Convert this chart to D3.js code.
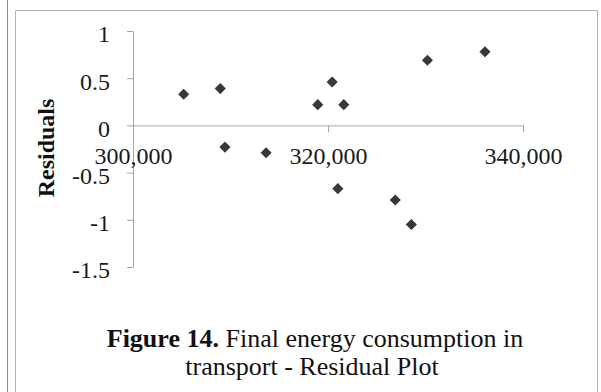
<!DOCTYPE html>
<html>
<head>
<meta charset="utf-8">
<script src="https://cdn.jsdelivr.net/npm/d3@7"></script>
<style>
   body { margin: 0; background: #fff; }
   svg { display: block; }
   text { font-family: "Liberation Serif", "Times New Roman", serif; }
</style>
</head>
<body>
<div id="chart"></div>
<script>

// DATA
var consumption = [305200, 308950, 309430, 313650, 318950, 320430, 321620, 321010, 326900, 328550, 330200, 336100];
var residuals   = [0.33, 0.39, -0.23, -0.29, 0.22, 0.46, 0.22, -0.67, -0.79, -1.05, 0.69, 0.78];

var xTicks = [300000, 320000, 340000];
var xTickLabels = ['300,000', '320,000', '340,000'];
var yTicks = [1, 0.5, 0, -0.5, -1, -1.5];
var yTickLabels = ['1', '0.5', '0', '-0.5', '-1', '-1.5'];

var captionBold = 'Figure 14.';
var captionRest = ' Final energy consumption in';
var captionLine2 = 'transport - Residual Plot';

// SETTINGS
var settings = {
   width: 601,
   height: 392,
   plot: { left: 133, right: 523, top: 31, bottom: 267 },
   axis: '#a6a6a6',
   dot: '#383838'
};

// CANVAS
var canvas = d3.select('#chart').append('svg')
   .attr('width', settings.width)
   .attr('height', settings.height)

// FRAME LINES
canvas.append('line')
   .attr('x1', 7.5).attr('x2', 7.5).attr('y1', 0).attr('y2', settings.height)
   .attr('stroke', '#8c8c8c')
canvas.append('path')
   .attr('d', 'M15.5,392 V10.5 H597.5 V392')
   .attr('fill', 'none')
   .attr('stroke', '#b4b4b4')

// X-SCALING
var xScale = d3.scaleLinear()
   .domain([300000, 340000])
   .range([settings.plot.left, settings.plot.right])

// Y-SCALING
var yScale = d3.scaleLinear()
   .domain([1, -1.5])
   .range([settings.plot.top, settings.plot.bottom])

// Y-AXIS
var yAxis = d3.axisLeft(yScale)
   .tickValues(yTicks)
   .tickFormat((d, i) => yTickLabels[i])
   .tickSize(6)
   .tickSizeOuter(0)
   .tickPadding(17)

var gy = canvas.append('g')
   .attr('transform', 'translate(' + settings.plot.left + ',0)')
   .call(yAxis)

// X-AXIS
var xAxis = d3.axisBottom(xScale)
   .tickValues(xTicks)
   .tickFormat((d, i) => xTickLabels[i])
   .tickSize(7)
   .tickSizeOuter(0)
   .tickPadding(15)

var gx = canvas.append('g')
   .attr('transform', 'translate(0,' + yScale(0) + ')')
   .call(xAxis)

// AXIS STYLE
canvas.selectAll('.domain, .tick line').attr('stroke', settings.axis)
canvas.selectAll('.tick text')
   .attr('fill', '#1a1a1a')
   .style('font-size', '24px')
   .style('font-family', '"Liberation Serif", serif')
gy.selectAll('.tick text').attr('dy', '0.45em')

// Y-AXIS TITLE
canvas.append('text')
   .attr('transform', 'translate(54,' + 148 + ') rotate(-90)')
   .attr('text-anchor', 'middle')
   .attr('font-size', 24)
   .attr('font-weight', 'bold')
   .attr('fill', '#111')
   .text('Residuals')

// MARKERS
var diamond = d3.symbol().type(d3.symbolSquare).size(62);

canvas.selectAll('path.dot')
   .data(consumption)
      .enter().append('path')
         .attr('class', 'dot')
         .attr('d', diamond)
         .attr('transform', (d, i) => 'translate(' + xScale(d) + ',' + yScale(residuals[i]) + ') rotate(45)')
         .attr('fill', settings.dot)

// CAPTION
var cap = canvas.append('text')
   .attr('x', 315)
   .attr('y', 347)
   .attr('text-anchor', 'middle')
   .attr('font-size', 26)
   .attr('fill', '#111')

cap.append('tspan').attr('font-weight', 'bold').text(captionBold)
cap.append('tspan').text(captionRest)

canvas.append('text')
   .attr('x', 312)
   .attr('y', 375)
   .attr('text-anchor', 'middle')
   .attr('font-size', 26)
   .attr('fill', '#111')
   .text(captionLine2)

</script>
</body>
</html>
